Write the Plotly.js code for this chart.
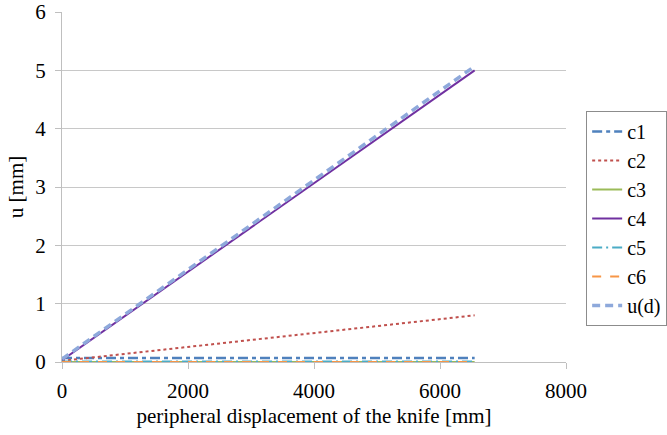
<!DOCTYPE html>
<html><head><meta charset="utf-8">
<script src="https://cdn.plot.ly/plotly-3.0.1.min.js"></script>
<style>body{margin:0;background:#fff}</style>
</head><body>
<div id="chart" style="width:667px;height:435px"></div>
<script>
const xValues = [0, 6550];
const c1 = [0.07, 0.07];
const c2 = [0.02, 0.80];
const c3 = [0.0, 0.0];
const c4 = [0.03, 5.00];
const c5 = [0.01, 0.01];
const c6 = [0.0, 0.0];
const ud = [0.05, 5.07];
const seriesNames = ['c1','c2','c3','c4','c5','c6','u(d)'];
const tickLabelsX = ['0','2000','4000','6000','8000'];
const tickValsX = [0,2000,4000,6000,8000];
const seriesData = [c1,c2,c3,c4,c5,c6,ud];
const colors = ['#4F81BD','#C0504D','#9BBB59','#7030A0','#4BACC6','#F79646','#8EA9DB'];
const dashes = ['10px,4px,4px,4px','dot','solid','solid','10px,4px,2px,4px','dash','8px,5px'];
const widths = [2.5,2,2,2,2,2,3.5];
const ff = '"Liberation Serif", "Times New Roman", serif';
const data = seriesData.map((s,i)=>({
  x: xValues, y: s, name: seriesNames[i], mode: 'lines', type: 'scatter',
  line: {color: colors[i], dash: dashes[i], width: widths[i]}
}));
const layout = {
  width: 667, height: 435,
  margin: {l: 62, r: 101, t: 12, b: 73, autoexpand: false},
  paper_bgcolor: '#fff', plot_bgcolor: '#fff',
  font: {family: ff, size: 21, color: '#000'},
  showlegend: true,
  legend: {x: 1.04, y: 0.717, xanchor: 'left', yanchor: 'top',
    bordercolor: '#8c8c8c', borderwidth: 1, font: {family: ff, size: 20, color: '#000'},
    itemwidth: 30, traceorder: 'normal'},
  xaxis: {range: [0, 8000], tickvals: tickValsX, ticktext: tickLabelsX,
    tickfont: {family: ff, size: 21, color: '#000'}, ticklabelstandoff: 4,
    showgrid: false, zeroline: false, showline: true, linecolor: '#bfbfbf', linewidth: 1,
    ticks: 'outside', ticklen: 6, tickcolor: '#bfbfbf', automargin: false,
    title: {text: 'peripheral displacement of the knife [mm]', font: {family: ff, size: 21, color: '#000'}, standoff: 6}},
  yaxis: {range: [0, 6], tickvals: [0,1,2,3,4,5,6],
    tickfont: {family: ff, size: 21, color: '#000'}, ticklabelstandoff: 5,
    showgrid: true, gridcolor: '#c8c8c8', zeroline: false, showline: true, linecolor: '#bfbfbf', linewidth: 1,
    ticks: 'outside', ticklen: 6, tickcolor: '#bfbfbf', automargin: false,
    title: {text: 'u [mm]', font: {family: ff, size: 21, color: '#000'}, standoff: 5}}
};
Plotly.newPlot('chart', data, layout, {displayModeBar: false, staticPlot: true});
</script>
</body></html>
